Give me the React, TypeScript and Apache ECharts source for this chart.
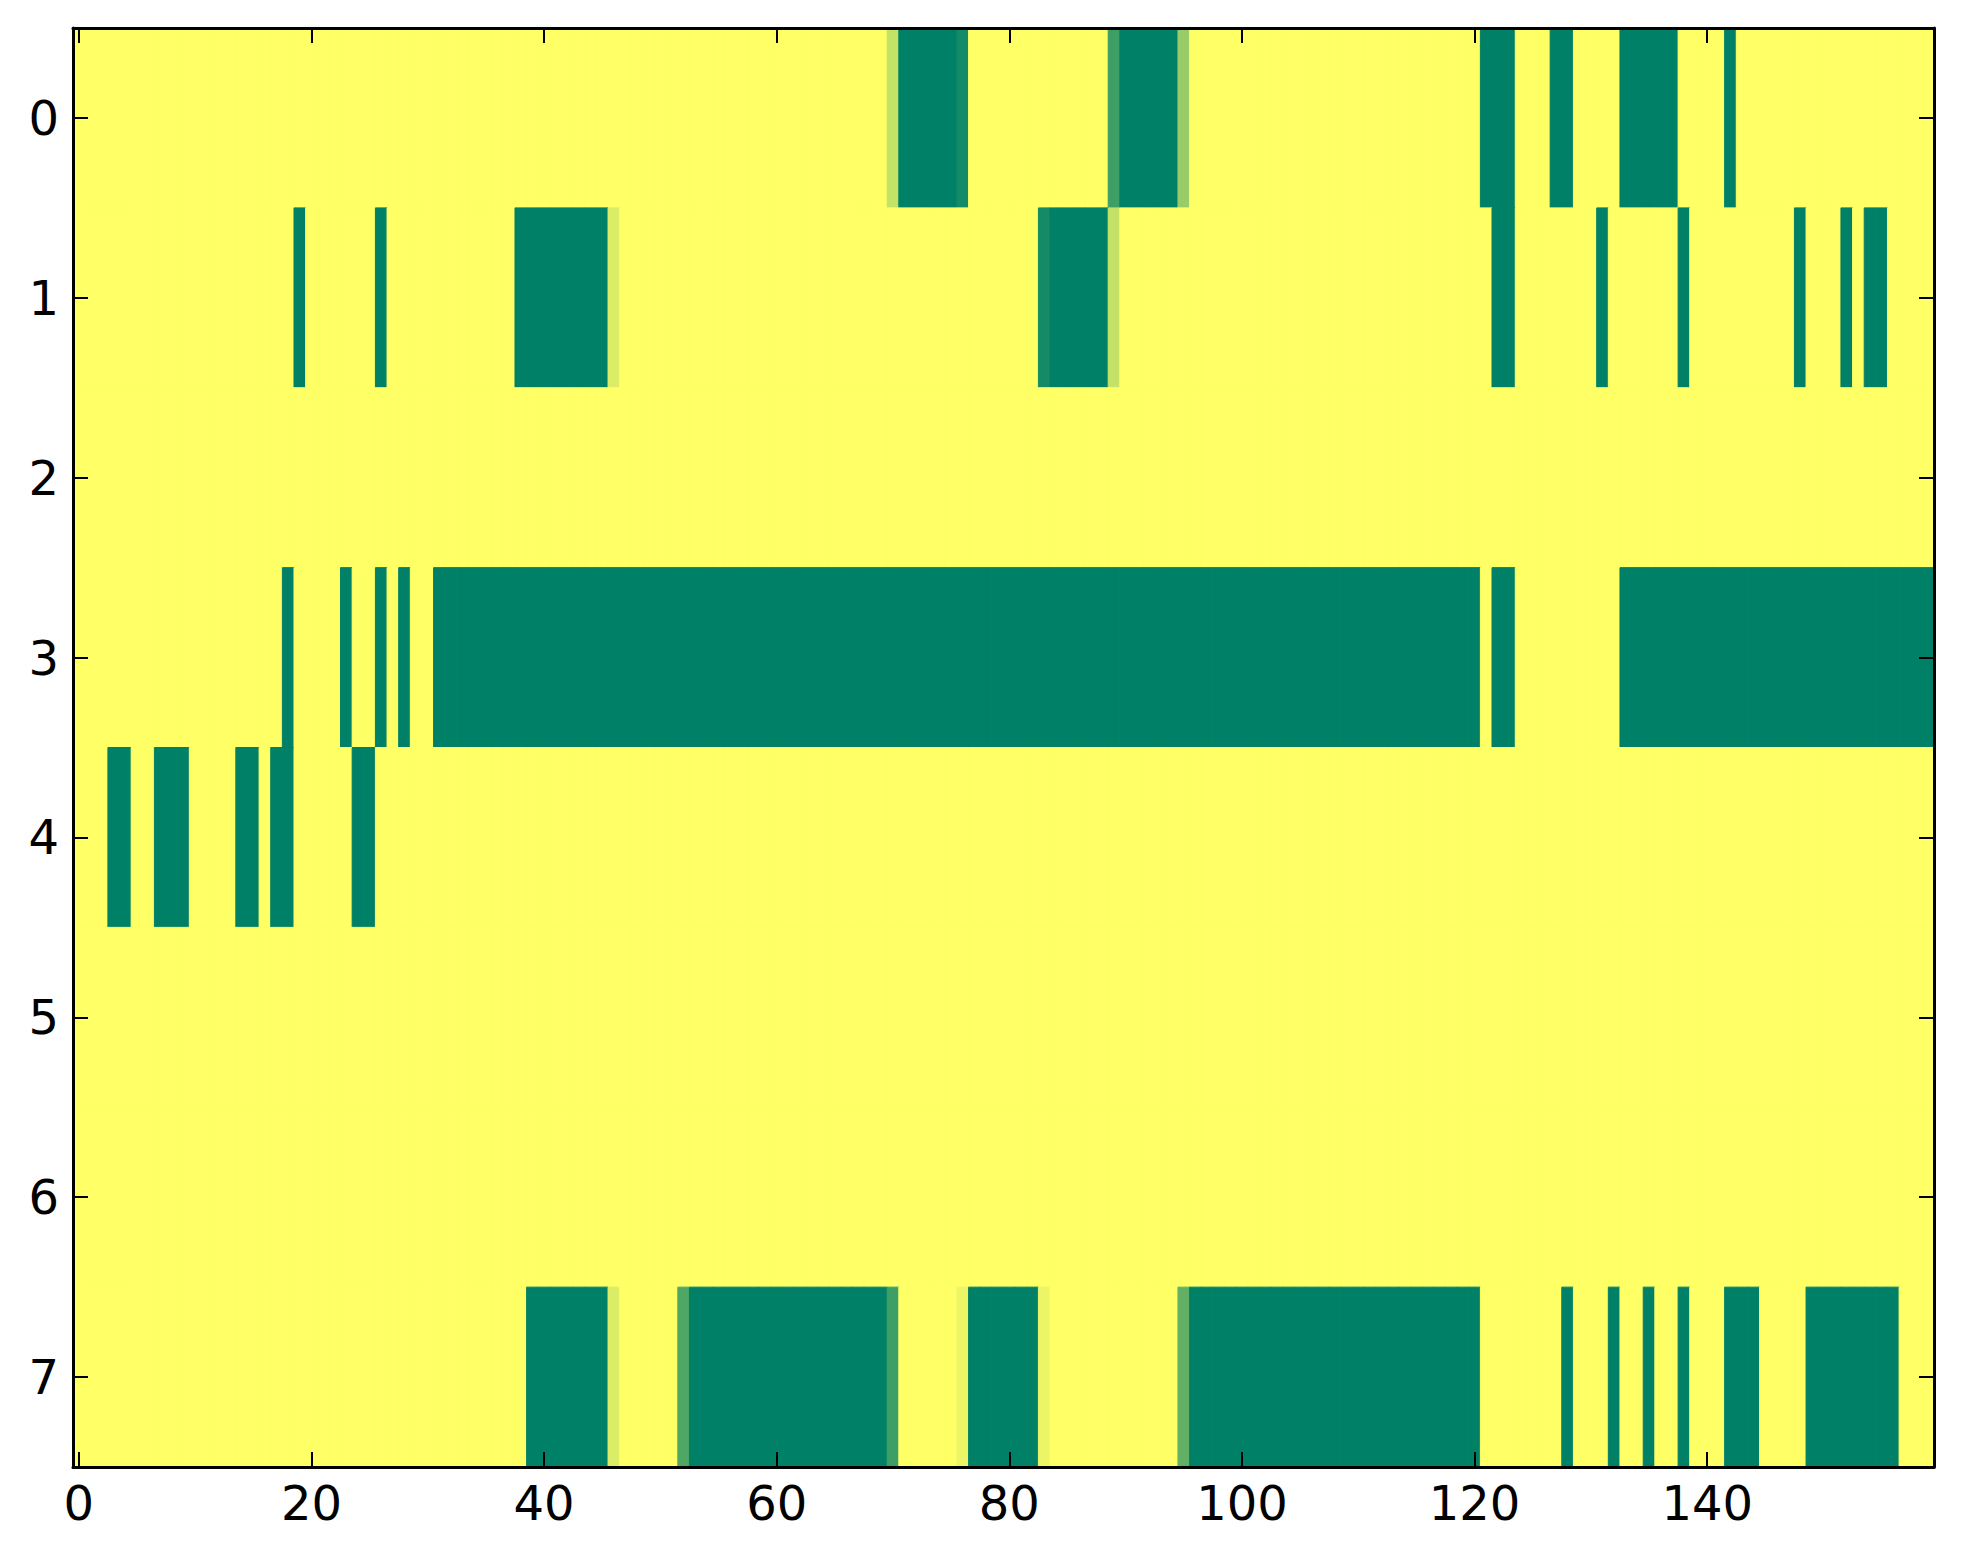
import React, { useEffect, useRef } from "react";
import * as echarts from "echarts";

// ---- Data ----
const N_COLS = 160;
const yCategories = ["0", "1", "2", "3", "4", "5", "6", "7"];
const xTickStep = 20;

// Green (value 0) runs per row: [startCol, endCol] inclusive
const row0Green = [[71, 75], [90, 94], [121, 123], [127, 128], [133, 137], [142, 142]];
const row1Green = [[19, 19], [26, 26], [38, 45], [84, 88], [122, 123], [131, 131], [138, 138], [148, 148], [152, 152], [154, 155]];
const row2Green: number[][] = [];
const row3Green = [[18, 18], [23, 23], [26, 26], [28, 28], [31, 120], [122, 123], [133, 159]];
const row4Green = [[3, 4], [7, 9], [14, 15], [17, 18], [24, 25]];
const row5Green: number[][] = [];
const row6Green: number[][] = [];
const row7Green = [[39, 45], [53, 69], [77, 82], [96, 120], [128, 128], [132, 132], [135, 135], [138, 138], [142, 144], [149, 156]];

// Blended edge cells: [col, value]
const row0Partial = [[70, 0.77], [76, 0.08], [89, 0.24], [95, 0.6]];
const row1Partial = [[46, 0.86], [83, 0.08], [89, 0.77]];
const row7Partial = [[46, 0.86], [52, 0.31], [70, 0.24], [76, 0.92], [83, 0.92], [95, 0.38]];

const rowsGreen = [row0Green, row1Green, row2Green, row3Green, row4Green, row5Green, row6Green, row7Green];
const rowsPartial: number[][][] = [row0Partial, row1Partial, [], [], [], [], [], row7Partial];

const xCategories = Array.from({ length: N_COLS }, (_, i) => String(i));

function buildData() {
  const out: number[][] = [];
  rowsGreen.forEach((runs, r) => {
    const vals = new Array(N_COLS).fill(1);
    runs.forEach(([a, b]) => {
      for (let c = a; c <= b; c++) vals[c] = 0;
    });
    rowsPartial[r].forEach(([c, v]) => {
      vals[c] = v;
    });
    vals.forEach((v, c) => out.push([c, r, v]));
  });
  return out;
}

const FONT = "DejaVu Sans";

export default function App() {
  const ref = useRef<HTMLDivElement>(null);
  useEffect(() => {
    if (!ref.current) return;
    const chart = echarts.init(ref.current, undefined, { renderer: "svg" });
    const tickFn = (i: number) => i % xTickStep === 0;
    const axisLine = { show: true, onZero: false, lineStyle: { color: "#000", width: 3 } };
    const tickStyle = { color: "#000", width: 2 };
    chart.setOption({
      animation: false,
      backgroundColor: "#ffffff",
      grid: {
        left: 65,
        top: 20,
        width: 1861,
        height: 1439,
        show: true,
        backgroundColor: "#ffff66",
        borderWidth: 0,
      },
      xAxis: [
        {
          type: "category",
          data: xCategories,
          position: "bottom",
          z: 10,
          axisLine,
          splitLine: { show: false },
          axisTick: { show: true, inside: true, length: 15, alignWithLabel: true, interval: tickFn, lineStyle: tickStyle },
          axisLabel: { show: true, interval: tickFn, margin: 12, fontSize: 48, fontFamily: FONT, color: "#000" },
        },
        {
          type: "category",
          data: xCategories,
          position: "top",
          z: 10,
          axisLine,
          splitLine: { show: false },
          axisTick: { show: true, inside: true, length: 15, alignWithLabel: true, interval: tickFn, lineStyle: tickStyle },
          axisLabel: { show: false },
        },
      ],
      yAxis: [
        {
          type: "category",
          data: yCategories,
          inverse: true,
          position: "left",
          z: 10,
          axisLine,
          splitLine: { show: false },
          axisTick: { show: true, inside: true, length: 15, alignWithLabel: true, interval: 0, lineStyle: tickStyle },
          axisLabel: { show: true, interval: 0, margin: 14, fontSize: 48, fontFamily: FONT, color: "#000" },
        },
        {
          type: "category",
          data: yCategories,
          inverse: true,
          position: "right",
          z: 10,
          axisLine,
          splitLine: { show: false },
          axisTick: { show: true, inside: true, length: 15, alignWithLabel: true, interval: 0, lineStyle: tickStyle },
          axisLabel: { show: false },
        },
      ],
      visualMap: {
        show: false,
        type: "continuous",
        min: 0,
        max: 1,
        dimension: 2,
        seriesIndex: 0,
        inRange: { color: ["#008066", "#ffff66"] },
      },
      series: [
        {
          type: "custom",
          xAxisIndex: 0,
          yAxisIndex: 0,
          encode: { x: 0, y: 1 },
          data: buildData(),
          silent: true,
          renderItem: (_params: any, api: any) => {
            const p = api.coord([api.value(0), api.value(1)]);
            const s = api.size([1, 1]);
            const color = api.visual("color");
            return {
              type: "rect",
              shape: { x: p[0] - s[0] / 2, y: p[1] - s[1] / 2, width: s[0], height: s[1] },
              style: { fill: color, stroke: color, lineWidth: 1 },
            };
          },
        },
      ],
    });
    return () => chart.dispose();
  }, []);
  return <div ref={ref} style={{ width: 1947, height: 1548 }} />;
}
